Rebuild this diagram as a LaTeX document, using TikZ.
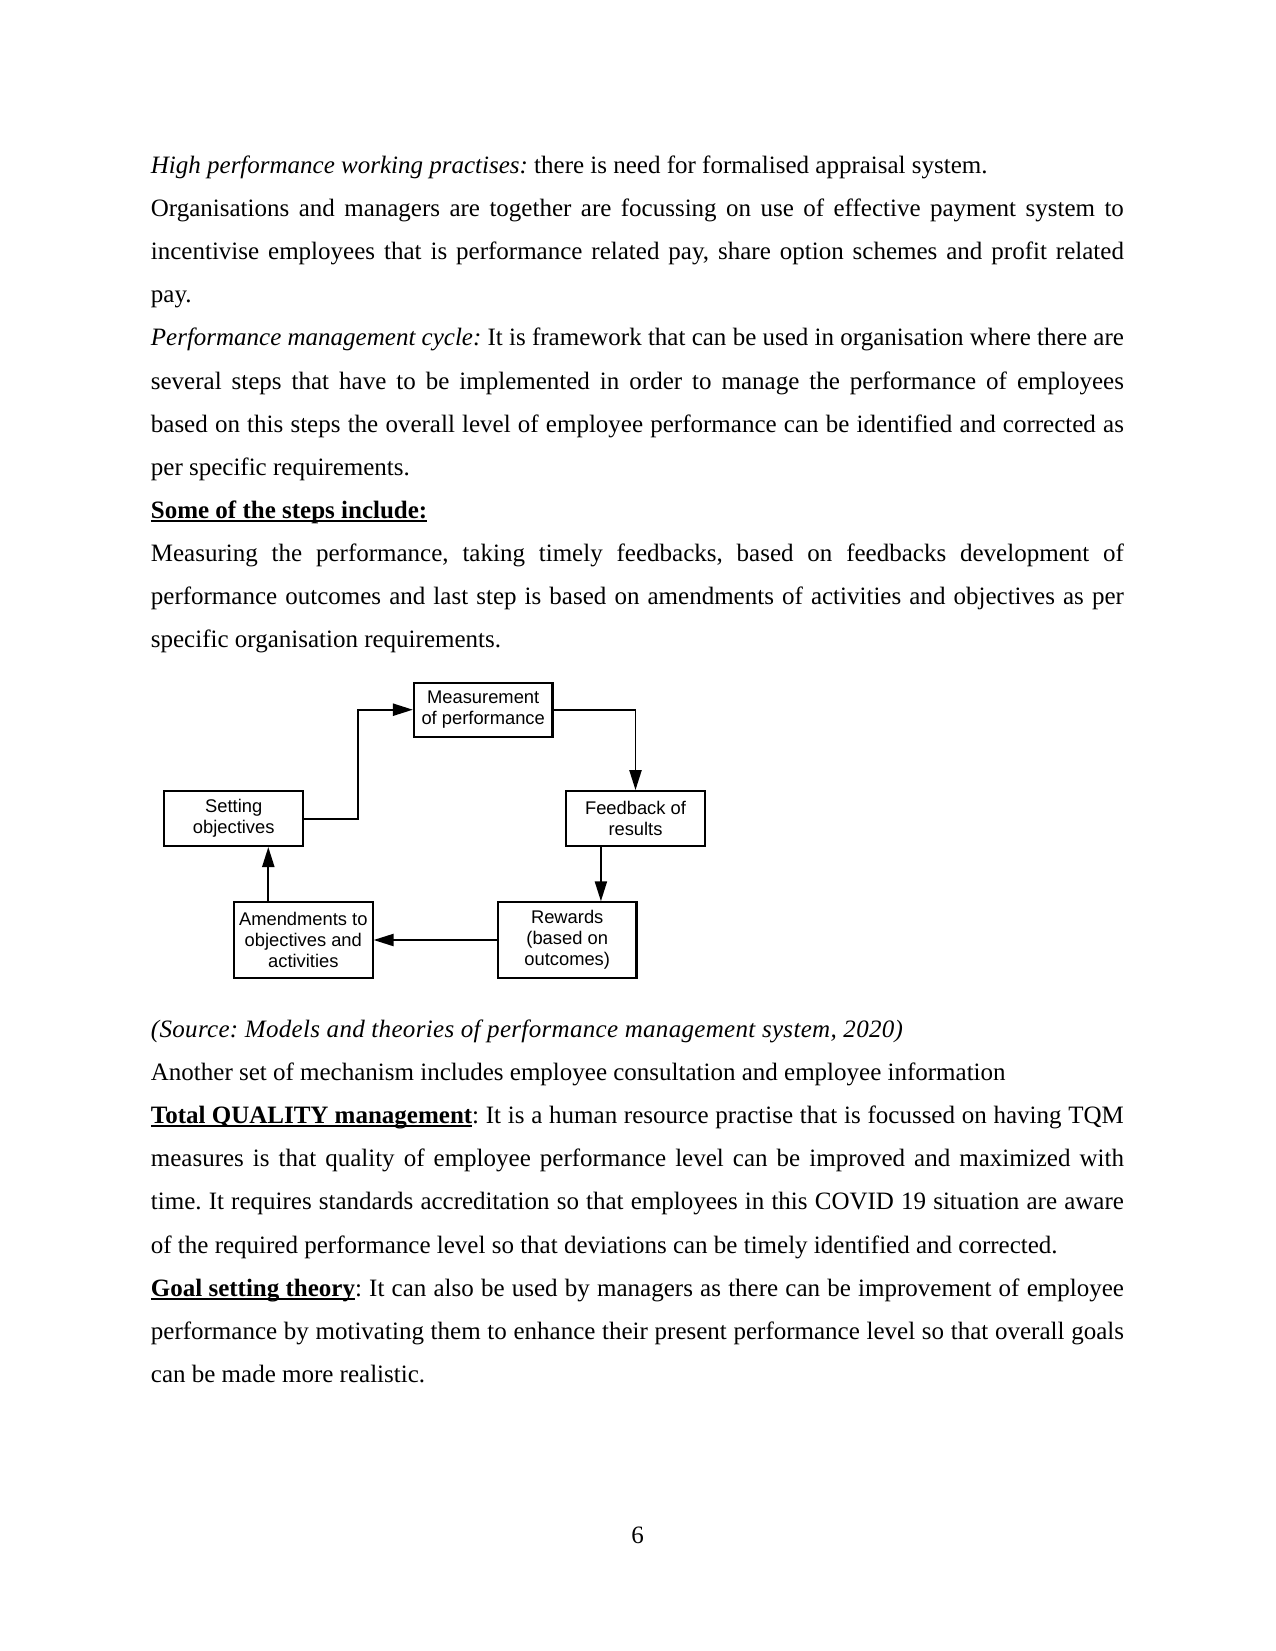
\documentclass[tikz,border=0pt]{standalone}
\usepackage{fontspec}
\setmainfont{Liberation Serif}
\newfontfamily\diagfont{Liberation Sans}
\usetikzlibrary{arrows.meta}

\newcommand{\bodyfont}{\fontsize{12bp}{20.71bp}\selectfont\frenchspacing\hyphenpenalty=10000\tolerance=9000\emergencystretch=6bp}
\newcommand{\ulhead}[1]{\leavevmode\setbox0\hbox{#1}\rlap{\rule[-1.6bp]{\wd0}{0.8bp}}\box0}

\tikzset{
  bodytext/.style={anchor=base west, inner sep=0, text width=467bp, align=justify, font=\bodyfont},
  stage/.style={draw, line width=1bp, inner sep=2bp, minimum width=66.5bp, align=center,
    font=\diagfont\fontsize{8.8bp}{10.1bp}\selectfont},
  flow/.style={line width=0.95bp, -{Triangle[length=9.6bp,width=5.8bp]}}
}

\begin{document}
\begin{tikzpicture}[x=0.48bp,y=0.48bp,yscale=-1]
%set page: 1275 x 1651, origin top left
\useasboundingbox[fill=white] (0,0) rectangle (1275,1651);

% Text Node
\node (parA) [bodytext] at (150.5,173.3) {%
\textit{High performance working practises:} there is need for formalised appraisal system.\par
Organisations and managers are together are focussing on use of effective payment system to\linebreak
incentivise employees that is performance related pay, share option schemes and profit related\linebreak
pay.\par
\textit{Performance management cycle:} It is framework that can be used in organisation where there are\linebreak
several steps that have to be implemented in order to manage the performance of employees\linebreak
based on this steps the overall level of employee performance can be identified and corrected as\linebreak
per specific requirements.\par
\ulhead{\textbf{Some of the steps include:}}\par
Measuring the performance, taking timely feedbacks, based on feedbacks development of\linebreak
performance outcomes and last step is based on amendments of activities and objectives as per\linebreak
specific organisation requirements.};

%Shape: Rectangle
\node (meas) [stage, minimum height=26bp] at (483.2,709.7) {Measurement\\of performance};
%Shape: Rectangle
\node (setobj) [stage, minimum height=26.2bp] at (233.7,818.7) {Setting\\objectives};
%Shape: Rectangle
\node (feedb) [stage, minimum height=26.2bp] at (635.5,818.4) {Feedback of\\results};
%Shape: Rectangle
\node (amend) [stage, minimum height=36.2bp] at (303.3,940) {Amendments to\\objectives and\\activities};
%Shape: Rectangle
\node (reward) [stage, minimum height=36.2bp] at (567.2,940) {Rewards\\(based on\\outcomes)};

%Straight Lines
\coordinate (jog) at (358.3,764);
\coordinate (fbout) at ([xshift=-16.6bp]feedb.south);
\coordinate (amout) at ([xshift=-16.8bp]amend.north);
\draw [flow] (setobj.east) -| (jog) |- (meas.west);
\draw [flow] (meas.east) -| (feedb.north);
\draw [flow] (fbout) -- (fbout |- reward.north);
\draw [flow] (reward.west) -- (amend.east);
\draw [flow] (amout) -- (amout |- setobj.south);

% Text Node
\node (parB) [bodytext] at (150.5,1037.3) {%
{\addfontfeatures{LetterSpace=1.3}\textit{(Source: Models and theories of performance management system, 2020)}}\par
Another set of mechanism includes employee consultation and employee information\par
\ulhead{\textbf{Total QUALITY management}}: It is a human resource practise that is focussed on having TQM\linebreak
measures is that quality of employee performance level can be improved and maximized with\linebreak
time. It requires standards accreditation so that employees in this COVID 19 situation are aware\linebreak
of the required performance level so that deviations can be timely identified and corrected.\par
\ulhead{\textbf{Goal setting theory}}: It can also be used by managers as there can be improvement of employee\linebreak
performance by motivating them to enhance their present performance level so that overall goals\linebreak
can be made more realistic.};

% Text Node
\node (pgnum) [anchor=base, inner sep=0, font=\bodyfont] at (637.5,1543) {6};

\end{tikzpicture}
\end{document}
